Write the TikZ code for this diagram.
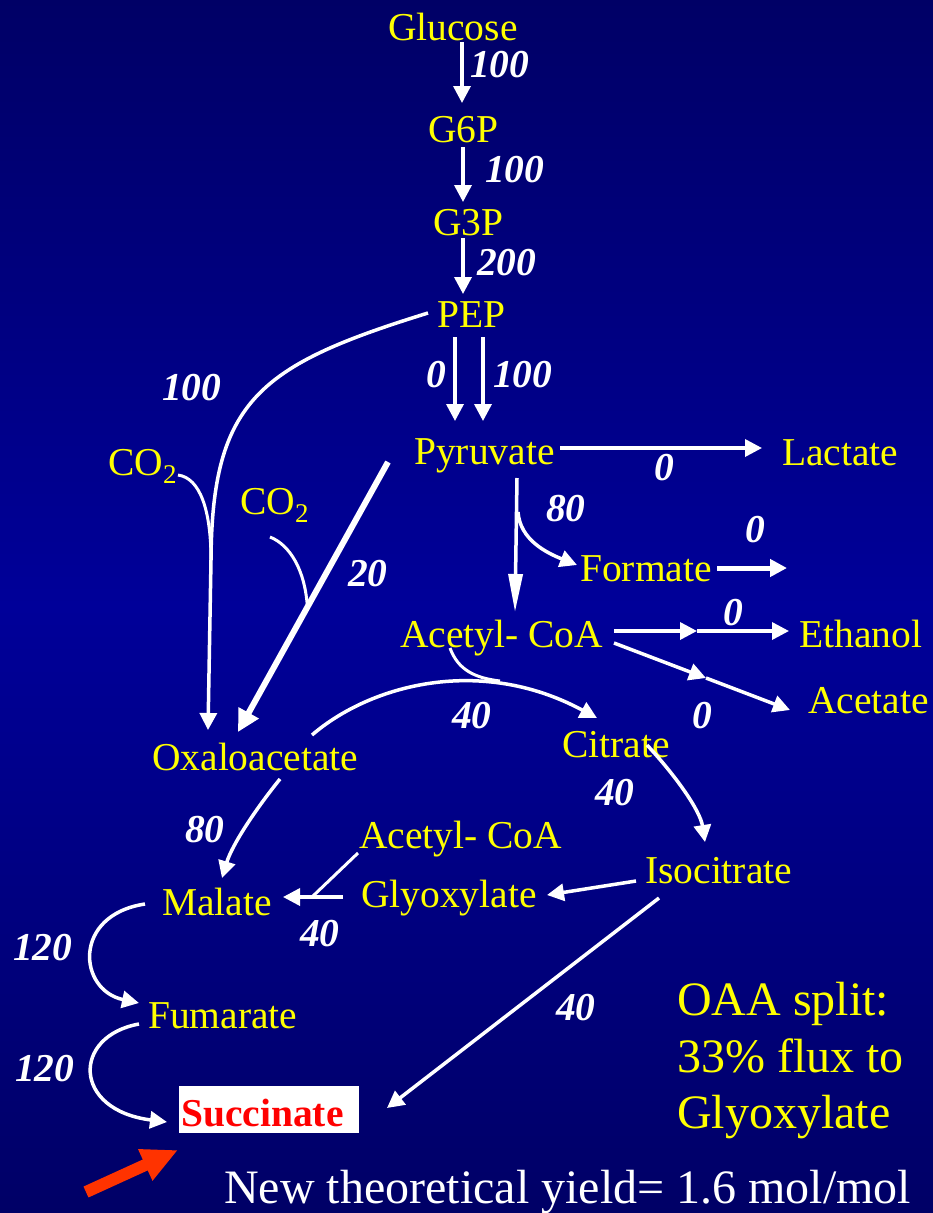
\documentclass[tikz,border=0pt]{standalone}
\usepackage{fontspec}
\setmainfont{Liberation Serif}
\usetikzlibrary{arrows.meta,calc}
\definecolor{spec}{HTML}{FFFF00}
\definecolor{bgtop}{HTML}{000066}
\definecolor{bgmid}{HTML}{000099}
\definecolor{redarr}{HTML}{FF3300}
\newcommand{\lowsub}[1]{\raisebox{-0.22em}{\fontsize{27}{27}\selectfont #1}}
\begin{document}
\begin{tikzpicture}[x=1pt,y=-1pt,
  sp/.style={text=spec, font=\fontsize{39.5}{44}\selectfont, inner sep=0pt, anchor=base west},
  fl/.style={text=white, font=\fontsize{39.5}{44}\selectfont\bfseries\itshape, inner sep=0pt, anchor=base west},
  arr/.style={draw=white, line width=3.5pt, -{Triangle[length=17pt,width=17pt]}},
  ln/.style={draw=white, line width=3pt},
  note/.style={text=spec, font=\fontsize{48}{50}\selectfont, inner sep=0pt, anchor=base west}]
\useasboundingbox (0,0) rectangle (933,1213);
\shade[top color=bgtop, bottom color=bgtop, middle color=bgmid] (0,0) rectangle (933,1213);

% species
\node[sp] (glu) at (388,40) {Glucose};
\node[sp] (g6p) at (428,142) {G6P};
\node[sp] (g3p) at (433,235) {G3P};
\node[sp] (pep) at (437,327) {PEP};
\node[sp] (pyr) at (414,464) {Pyruvate};
\node[sp] (lac) at (782,465) {Lactate};
\node[sp] (form) at (580,581) {Formate};
\node[sp] (acoa) at (400,647) {Acetyl- CoA};
\node[sp] (eth) at (799,647) {Ethanol};
\node[sp] (acet) at (808,713) {Acetate};
\node[sp] (cit) at (562,757) {Citrate};
\node[sp] (oaa) at (152,770) {Oxaloacetate};
\node[sp] (acoa2) at (359,848) {Acetyl- CoA};
\node[sp] (glx) at (361,907) {Glyoxylate};
\node[sp] (iso) at (645,883) {Isocitrate};
\node[sp] (mal) at (162,915) {Malate};
\node[sp] (fum) at (148,1028) {Fumarate};
\node[sp] (co2a) at (108,475) {CO\lowsub{2}};
\node[sp] (co2b) at (240,514) {CO\lowsub{2}};
\node[fill=white, inner sep=0pt, anchor=north west, minimum width=180pt, minimum height=47pt] (succbox) at (179,1086) {};
\node[anchor=base west, inner sep=0pt, text=red, font=\fontsize{39.5}{44}\selectfont\bfseries] (succ) at (181,1126) {Succinate};

% notes
\node[note] (n1) at (677,1015) {OAA split:};
\node[note] (n2) at (677,1072) {33\% flux to};
\node[note] (n3) at (677,1128) {Glyoxylate};
\node[note, text=white] (yield) at (224,1203) {New theoretical yield= 1.6 mol/mol};

% flux labels
\node[fl] (f1) at (470,77) {100};
\node[fl] (f2) at (485,182) {100};
\node[fl] (f3) at (477,275) {200};
\node[fl] (f4) at (426,387) {0};
\node[fl] (f5) at (493,387) {100};
\node[fl] (f6) at (162,400) {100};
\node[fl] (f7) at (348,586) {20};
\node[fl] (f8) at (452,728) {40};
\node[fl] (f9) at (654,480) {0};
\node[fl] (f10) at (546,521) {80};
\node[fl] (f11) at (745,542) {0};
\node[fl] (f12) at (723,625) {0};
\node[fl] (f13) at (692,728) {0};
\node[fl] (f14) at (595,805) {40};
\node[fl] (f15) at (185,842) {80};
\node[fl] (f16) at (300,946) {40};
\node[fl] (f17) at (13,960) {120};
\node[fl] (f18) at (15,1081) {120};
\node[fl] (f19) at (556,1020) {40};

% glycolysis
\draw[arr] ($(glu.base west)+(74,2)$) -- ($(g6p.base west)+(34,-39)$);
\draw[arr] ($(g6p.base west)+(35,5)$) -- ($(g3p.base west)+(30,-33)$);
\draw[arr] ($(g3p.base west)+(30,3)$) -- ($(pep.base west)+(26,-33)$);
\draw[arr] ($(pep.base west)+(18,10)$) -- ($(pyr.base west)+(41,-43)$);
\draw[arr] ($(pep.base west)+(46,10)$) -- ($(pyr.base west)+(69,-43)$);

% pyruvate branches
\draw[arr] ($(pyr.base west)+(146,-16)$) -- ($(lac.base west)+(-20,-17)$);
\draw[arr, -{Triangle[length=38pt,width=14pt]}] ($(pyr.base west)+(103,14)$) -- ($(acoa.base west)+(115,-35)$);
\coordinate (fbr) at ($(pyr.base west)+(104,48)$);
\draw[arr] (fbr) .. controls +(2,28) and +(-30,-12) .. ($(form.base west)+(-3,-16)$);
\coordinate (fout) at (787,568);
\draw[arr, line width=5pt] ($(form.base west)+(137,-13)$) -- (fout);

% acetyl-CoA branches
\coordinate (emid) at (697,631);
\draw[arr] ($(acoa.base west)+(214,-16)$) -- (emid);
\draw[arr] (emid) -- ($(eth.base west)+(-10,-16)$);
\coordinate (amid) at (706,678);
\draw[arr] ($(acoa.base west)+(214,-4)$) -- (amid);
\draw[arr] (amid) -- ($(acet.base west)+(-18,-3)$);

% TCA / glyoxylate
\draw[arr] ($(oaa.base west)+(160,-35)$) .. controls (370,685) and (480,655) .. ($(cit.base west)+(35,-39)$);
\coordinate (cj) at (500,681);
\draw[ln] ($(acoa.base west)+(50,1)$) .. controls (458,670) and (475,678) .. (cj);
\draw[arr] ($(cit.base west)+(85,-12)$) .. controls (675,775) and (700,810) .. ($(iso.base west)+(60,-41)$);
\draw[arr] ($(iso.base west)+(-9,-2)$) -- ($(glx.base west)+(186,-12)$);
\draw[arr] ($(glx.base west)+(-18,-10)$) -- ($(mal.base west)+(121,-18)$);
\coordinate (mj) at (313,896);
\draw[ln] ($(acoa2.base west)+(-1,5)$) -- (mj);
\draw[arr] ($(oaa.base west)+(128,9)$) .. controls (255,810) and (232,845) .. ($(mal.base west)+(60,-37)$);
\draw[arr] ($(mal.base west)+(-17,-11)$) .. controls (72,915) and (78,990) .. ($(fum.base west)+(-9,-25)$);
\draw[arr] ($(fum.base west)+(-9,-4)$) .. controls (72,1036) and (72,1110) .. ($(succ.base west)+(-14,-4)$);
\draw[arr] ($(iso.base west)+(14,15)$) -- ($(succ.base west)+(206,-18)$);

% anaplerotic
\coordinate (oj) at (211,560);
\draw[arr] ($(pep.base west)+(-9,-14)$) .. controls (260,365) and (212,400) .. (oj) -- ($(oaa.base west)+(56,-40)$);
\draw[ln] ($(co2a.base west)+(70,0)$) .. controls (200,478) and (211,510) .. (oj);
\coordinate (pj) at (307.4,607);
\draw[ln] ($(co2b.base west)+(30,23)$) .. controls (290,545) and (305,570) .. (pj);
\draw[arr, line width=6pt, -{Triangle[length=22pt,width=22pt]}] ($(pyr.base west)+(-26,-2)$) -- ($(oaa.base west)+(86,-38)$);

% red pointer
\coordinate (rs) at (86,1192);
\draw[draw=redarr, line width=12pt, -{Triangle[length=36pt,width=32pt]}] (rs) -- ($(succ.base west)+(-3,24)$);
\end{tikzpicture}
\end{document}
